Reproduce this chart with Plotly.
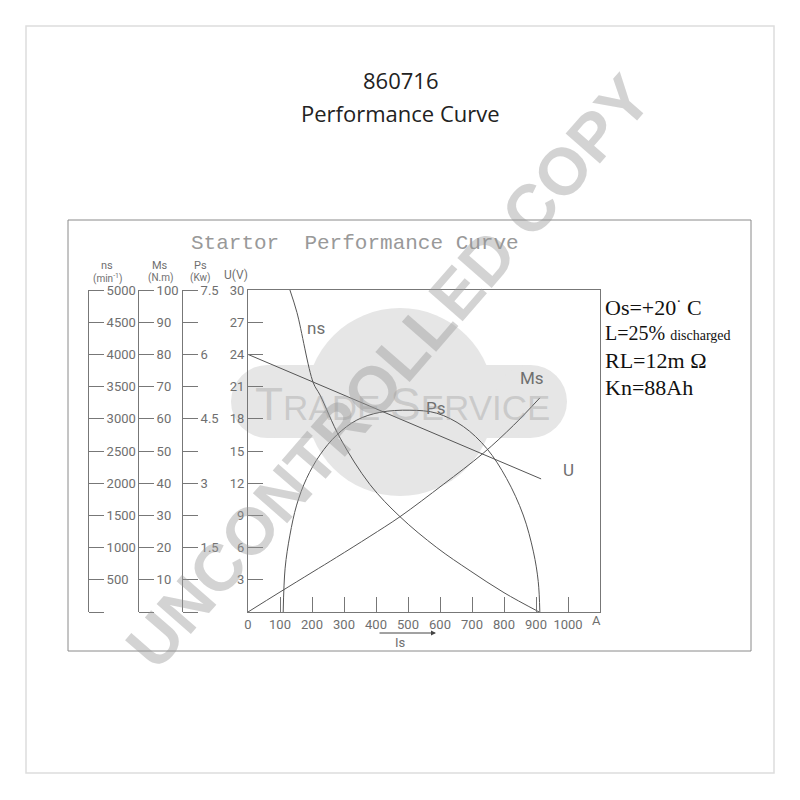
import plotly.graph_objects as go

# ---------------- data ----------------
u_current = [0, 916]
u_volts = [24.0, 12.4]

ms_current = [0, 100, 200, 277, 381, 475, 610, 735, 830, 912]
ms_torque = [0, 6.2, 12.3, 17.0, 23.5, 29.6, 39.6, 49.3, 58.0, 66.5]

ns_current = [131, 153, 204, 225, 288, 381, 475, 590, 694, 800, 910]
ns_speed = [5000, 4650, 3560, 3370, 2700, 1980, 1480, 1000, 640, 300, 0]

ps_current = [110, 116, 131, 152, 183, 225, 277, 340, 412, 506, 590, 673, 746, 808, 860, 892, 907, 912]
ps_power = [0, 1.02, 1.79, 2.49, 3.11, 3.66, 4.12, 4.47, 4.65, 4.70, 4.63, 4.32, 3.81, 3.11, 2.26, 1.40,
            0.71, 0]

is_ticks = [0, 100, 200, 300, 400, 500, 600, 700, 800, 900, 1000]
u_ticks = [3, 6, 9, 12, 15, 18, 21, 24, 27, 30]
ms_ticks = [0, 10, 20, 30, 40, 50, 60, 70, 80, 90, 100]
ps_ticks = [0, 0.75, 1.5, 2.25, 3, 3.75, 4.5, 5.25, 6, 6.75, 7.5]
ps_labels = ["", "", "1.5", "", "3", "", "4.5", "", "6", "", "7.5"]
ns_ticks = [0, 500, 1000, 1500, 2000, 2500, 3000, 3500, 4000, 4500, 5000]

W = H = 784
OX = OY = 8


def px(x):
    return (x - OX) / W


def py(y):
    return 1 - (y - OY) / H


LINE = "#555555"
AX = "#777777"
TXT = "#6f6f6f"
TICKFONT = dict(family="Roboto", size=13, color=TXT)

fig = go.Figure()
fig.add_trace(go.Scatter(x=u_current, y=u_volts, mode="lines", line=dict(color=LINE, width=1),
                         xaxis="x", yaxis="y", hoverinfo="skip"))
fig.add_trace(go.Scatter(x=ms_current, y=ms_torque, mode="lines", line=dict(color=LINE, width=1, shape="spline"),
                         xaxis="x", yaxis="y2", hoverinfo="skip"))
fig.add_trace(go.Scatter(x=ps_current, y=ps_power, mode="lines", line=dict(color=LINE, width=1, shape="spline", smoothing=1),
                         xaxis="x", yaxis="y3", hoverinfo="skip"))
fig.add_trace(go.Scatter(x=ns_current, y=ns_speed, mode="lines", line=dict(color=LINE, width=1, shape="spline"),
                         xaxis="x", yaxis="y4", hoverinfo="skip"))

xdom = [px(248), px(600)]
ydom = [py(612), py(290)]

common_free = dict(overlaying="y", anchor="free", side="right", showline=True, linecolor=AX, linewidth=1,
                   ticks="outside", ticklen=15, tickcolor=AX, tickwidth=1, showgrid=False, zeroline=False,
                   tickfont=TICKFONT, automargin=False)

fig.update_layout(
    template="none",
    width=W, height=H, margin=dict(l=0, r=0, t=0, b=0, pad=0), autosize=False,
    paper_bgcolor="white", plot_bgcolor="rgba(0,0,0,0)", showlegend=False,
    xaxis=dict(domain=xdom, range=[0, 1100], tickvals=is_ticks, ticks="inside", ticklen=15, tickcolor=AX,
               showline=True, linecolor=AX, mirror=True, showgrid=False, zeroline=False, tickfont=TICKFONT,
               anchor="y", automargin=False),
    yaxis=dict(domain=ydom, range=[0, 30], tickvals=u_ticks, ticks="inside", ticklen=15, tickcolor=AX,
               showline=True, linecolor=AX, mirror=True, showgrid=False, zeroline=False, tickfont=TICKFONT,
               anchor="x", automargin=False),
    yaxis2=dict(range=[0, 100], tickvals=ms_ticks, ticktext=[""] + [str(v) for v in ms_ticks[1:]],
                position=px(138), **common_free),
    yaxis3=dict(range=[0, 7.5], tickvals=ps_ticks, ticktext=ps_labels, position=px(182), **common_free),
    yaxis4=dict(range=[0, 5000], tickvals=ns_ticks, ticktext=[""] + [str(v) for v in ns_ticks[1:]],
                position=px(88), **common_free),
)

shapes = [
    # page frame
    dict(type="rect", xref="paper", yref="paper", x0=px(26), x1=px(774), y0=py(26), y1=py(773),
         line=dict(color="#dddddd", width=1.5), layer="below"),
    # chart box
    dict(type="rect", xref="paper", yref="paper", x0=px(68), x1=px(751), y0=py(220), y1=py(651),
         line=dict(color="#8a8a8a", width=1), layer="below"),
    # logo circle and pill
    dict(type="circle", xref="paper", yref="paper", x0=px(306), x1=px(494), y0=py(308), y1=py(496),
         fillcolor="#e6e6e6", line=dict(width=0), layer="below"),
    dict(type="rect", xref="paper", yref="paper", x0=px(268), x1=px(530), y0=py(365), y1=py(438),
         fillcolor="#e6e6e6", line=dict(width=0), layer="below"),
    dict(type="circle", xref="paper", yref="paper", x0=px(231), x1=px(304), y0=py(365), y1=py(438),
         fillcolor="#e6e6e6", line=dict(width=0), layer="below"),
    dict(type="circle", xref="paper", yref="paper", x0=px(494), x1=px(567), y0=py(365), y1=py(438),
         fillcolor="#e6e6e6", line=dict(width=0), layer="below"),
]
fig.update_layout(shapes=shapes)


def ann(x, y, text, size=13, color=TXT, family="Roboto", xanchor="center", **kw):
    fig.add_annotation(x=px(x), y=py(y), xref="paper", yref="paper", text=text, showarrow=False,
                       font=dict(size=size, color=color, family=family), xanchor=xanchor, yanchor="middle", **kw)


# titles
ann(400, 80, "860716", size=22, color="#222222", family="Open Sans")
ann(400, 113, "Performance Curve", size=22, color="#222222", family="Open Sans")
ann(355, 243, "Startor  Performance Curve", size=21, color="#999999", family="Liberation Mono")

# axis headers
ann(107, 265, "ns", size=11)
ann(108, 278, "(min<sup>-1</sup>)", size=10)
ann(160, 265, "Ms", size=11)
ann(160, 278, "(N.m)", size=10)
ann(200, 265, "Ps", size=11)
ann(200, 278, "(Kw)", size=10)
ann(236, 275, "U(V)", size=12)

# curve labels
ann(316, 328, "ns", size=17)
ann(532, 378, "Ms", size=17)
ann(436, 408, "Ps", size=17)
ann(568, 470, "U", size=17)

# x axis extras
ann(596, 620, "A", size=13)
ann(400, 642, "Is", size=13)
fig.add_annotation(x=px(436), y=py(633), ax=-58, ay=0, xref="paper", yref="paper",
                   text="", showarrow=True, arrowhead=2, arrowsize=1,
                   arrowwidth=1, arrowcolor="#444444")

# right condition box
SER = "Liberation Serif"
ann(603, 306, "Os=+20<sup>·</sup> C", size=22, color="#111111", family=SER, xanchor="left")
ann(603, 333, "L=25% <span style='font-size:14px'>discharged</span>", size=20, color="#111111", family=SER,
    xanchor="left")
ann(603, 360, "RL=12m Ω", size=22, color="#111111", family=SER, xanchor="left")
ann(603, 387, "Kn=88Ah", size=22, color="#111111", family=SER, xanchor="left")

# logo text and watermark
fig.add_annotation(x=px(402), y=py(404), xref="paper", yref="paper", showarrow=False,
                   text="<span style='font-size:46px'>T</span>RADE <span style='font-size:46px'>S</span>ERVICE",
                   font=dict(size=35, color="rgba(150,150,150,0.35)", family="Liberation Sans"))
fig.add_annotation(x=px(388), y=py(372), xref="paper", yref="paper", showarrow=False, textangle=-49,
                   text="<b>UNCONTROLLED COPY</b>",
                   font=dict(size=66, color="rgba(150,150,150,0.42)", family="Liberation Sans"))

fig.write_html("out.html")
